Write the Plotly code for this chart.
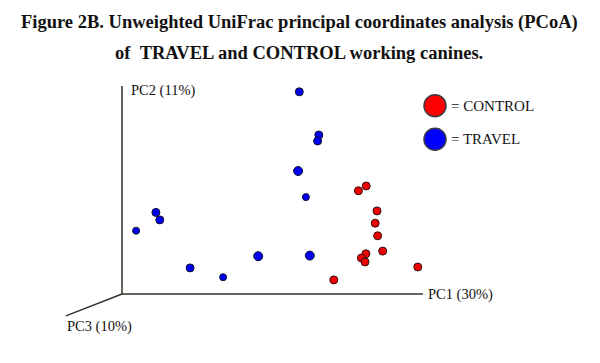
import plotly.graph_objects as go

# Projected PCoA coordinates (origin of axes = 0,0)
travel_x = [0.591, 0.656, 0.652, 0.587, 0.613, 0.113, 0.126, 0.047, 0.454, 0.626, 0.227, 0.337]
travel_y = [0.674, 0.530, 0.510, 0.410, 0.323, 0.272, 0.247, 0.211, 0.126, 0.128, 0.087, 0.056]
travel_size = [8, 8, 8, 9, 7, 8, 8, 7, 9, 9, 8, 7]

control_x = [0.788, 0.814, 0.850, 0.844, 0.852, 0.869, 0.813, 0.798, 0.810, 0.986, 0.706]
control_y = [0.344, 0.360, 0.277, 0.236, 0.194, 0.143, 0.134, 0.120, 0.107, 0.090, 0.047]

axis_labels = ["PC1 (30%)", "PC2 (11%)", "PC3 (10%)"]
legend_labels = ["= CONTROL", "= TRAVEL"]
title_lines = ["Figure 2B. Unweighted UniFrac principal coordinates analysis (PCoA)",
               "of&nbsp;&nbsp;TRAVEL and CONTROL working canines."]

SERIF = "Liberation Serif, Times New Roman, serif"
AX = "#33332a"

fig = go.Figure()

fig.add_trace(go.Scatter(
    x=travel_x, y=travel_y, mode="markers", name="TRAVEL", showlegend=False,
    marker=dict(size=travel_size, color="#0000f0", opacity=1,
                line=dict(color="#101030", width=1))))
fig.add_trace(go.Scatter(
    x=control_x, y=control_y, mode="markers", name="CONTROL", showlegend=False,
    marker=dict(size=8, color="#f00000", opacity=1,
                line=dict(color="#301010", width=1))))

# Pseudo-3D axes
fig.add_shape(type="line", x0=0, y0=0, x1=1.003, y1=0, line=dict(color=AX, width=1.5))
fig.add_shape(type="line", x0=0, y0=0, x1=0, y1=0.693, line=dict(color=AX, width=1.5))
fig.add_shape(type="line", x0=0, y0=0, x1=-0.187, y1=-0.073, line=dict(color=AX, width=1.5))

lab_font = dict(family=SERIF, size=14.5, color="#111111")
fig.add_annotation(x=1.013, y=-0.003, text=axis_labels[0], showarrow=False,
                   xanchor="left", yanchor="middle", font=lab_font)
fig.add_annotation(x=0.023, y=0.68, text=axis_labels[1], showarrow=False,
                   xanchor="left", yanchor="middle", font=lab_font)
fig.add_annotation(x=-0.19, y=-0.107, text=axis_labels[2], showarrow=False,
                   xanchor="left", yanchor="middle", font=lab_font)

# Legend (drawn manually, large circles)
W, H = 600, 363
def px(xp): return xp / W
def py(yp): return 1 - yp / H
leg_colors = ["#ff0000", "#0000ff"]
leg_y = [105.7, 139.3]
for c, yy, lab in zip(leg_colors, leg_y, legend_labels):
    fig.add_shape(type="circle", xref="paper", yref="paper",
                  x0=px(424), x1=px(446), y0=py(yy + 11), y1=py(yy - 11),
                  fillcolor=c, line=dict(color="#3a3a48", width=1.5))
    fig.add_annotation(xref="paper", yref="paper", x=px(449), y=py(yy), text=lab,
                       showarrow=False, xanchor="left", yanchor="middle",
                       font=dict(family=SERIF, size=15, color="#111111"))

# Title
for i, t in enumerate(title_lines):
    fig.add_annotation(xref="paper", yref="paper", x=px(299), y=py(23 + 30 * i), text="<b>" + t + "</b>",
                       showarrow=False, xanchor="center", yanchor="middle",
                       font=dict(family=SERIF, size=18.5, color="#111111"))

fig.update_layout(
    width=W, height=H, margin=dict(l=0, r=0, t=0, b=0),
    paper_bgcolor="white", plot_bgcolor="white",
    xaxis=dict(range=[-122 / 300, (600 - 122) / 300], visible=False, fixedrange=True),
    yaxis=dict(range=[(294 - 363) / 300, 294 / 300], visible=False, fixedrange=True),
)

fig.write_html("out.html", config={"displayModeBar": False},
               post_script="document.body.style.margin='0';document.body.style.overflow='hidden';")
